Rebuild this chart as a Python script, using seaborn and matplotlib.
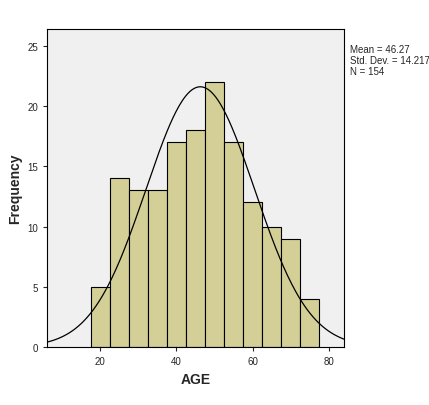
import numpy as np
import matplotlib
matplotlib.use('Agg')
import matplotlib.pyplot as plt
import seaborn as sns

# Bin edges and counts
bin_edges = [17.5, 22.5, 27.5, 32.5, 37.5, 42.5, 47.5, 52.5, 57.5, 62.5, 67.5, 72.5, 77.5]
counts = [5, 14, 13, 13, 17, 18, 22, 17, 12, 10, 9, 4]
mean_age = 46.27
std_age = 14.217
n_total = 154

sns.set_style("white")
plt.rcParams['font.family'] = ['Liberation Sans', 'DejaVu Sans']

fig = plt.figure(figsize=(4.29, 4.06), dpi=100)
ax = fig.add_axes([0.1096, 0.143, 0.692, 0.783])
ax.set_facecolor('#f0f0f0')

centers = [(a + b) / 2 for a, b in zip(bin_edges[:-1], bin_edges[1:])]
sns.histplot(x=centers, weights=counts, bins=bin_edges, ax=ax,
             color='#d3cf97', edgecolor='black', linewidth=0.8, alpha=1)

# normal curve scaled to counts
xs = np.linspace(6, 84, 300)
bw = bin_edges[1] - bin_edges[0]
ys = n_total * bw * np.exp(-0.5 * ((xs - mean_age) / std_age) ** 2) / (std_age * np.sqrt(2 * np.pi))
sns.lineplot(x=xs, y=ys, ax=ax, color='black', linewidth=0.9)

ax.set_xlim(6.1, 83.9)
ax.set_ylim(0, 26.4)
ax.set_xticks([20, 40, 60, 80])
ax.set_yticks([0, 5, 10, 15, 20, 25])
ax.tick_params(axis='both', labelsize=7, length=3, direction='out', left=True, bottom=True)
for s in ax.spines.values():
    s.set_color('black')
    s.set_linewidth(0.8)
ax.set_xlabel('AGE', fontsize=10, fontweight='bold')
ax.set_ylabel('Frequency', fontsize=10, fontweight='bold')

fig.text(350 / 429, 1 - 45 / 406,
         f"Mean = {mean_age}\nStd. Dev. = {std_age}\nN = {n_total}",
         fontsize=7, va='top', ha='left', linespacing=1.1)

fig.savefig('out.png', dpi=100)
